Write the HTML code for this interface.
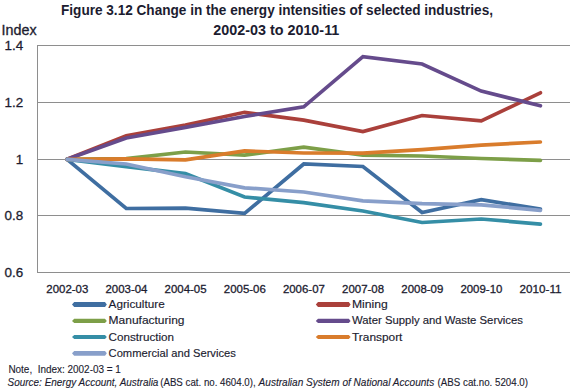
<!DOCTYPE html>
<html><head><meta charset="utf-8"><style>
html,body{margin:0;padding:0;background:#fff;}
body{width:586px;height:391px;overflow:hidden;position:relative;font-family:"Liberation Sans", sans-serif;}
svg{position:absolute;left:0;top:0;}
svg text{font-family:"Liberation Sans", sans-serif;fill:#1c1c30;stroke:#1c1c30;stroke-width:0.15px;}
svg text.t{stroke-width:0;}
svg text.s{stroke-width:0.12px;}
svg text.a{stroke-width:0.3px;}
</style></head><body>
<svg width="586" height="391" viewBox="0 0 586 391">
<rect x="37" y="45" width="533" height="1" fill="#8e8e8e"/>
<rect x="37" y="102" width="533" height="1" fill="#8e8e8e"/>
<rect x="37" y="159" width="533" height="1" fill="#8e8e8e"/>
<rect x="37" y="215" width="533" height="1" fill="#8e8e8e"/>
<rect x="37" y="272" width="533" height="1" fill="#8e8e8e"/>
<rect x="37" y="45" width="1" height="228" fill="#8e8e8e"/>
<text x="61.0" y="14.7" font-size="13.8" class="t" font-weight="bold" textLength="432" lengthAdjust="spacingAndGlyphs">Figure 3.12 Change in the energy intensities of selected industries,</text>
<text x="213.3" y="34.85" font-size="13.8" class="t" font-weight="bold" textLength="126" lengthAdjust="spacingAndGlyphs">2002-03 to 2010-11</text>
<text x="1.6" y="35.1" font-size="14.0" class="a" textLength="35" lengthAdjust="spacingAndGlyphs">Index</text>
<text x="23.2" y="49.9" font-size="13.4" class="a" text-anchor="end">1.4</text>
<text x="23.2" y="106.8" font-size="13.4" class="a" text-anchor="end">1.2</text>
<text x="23.2" y="163.7" font-size="13.4" class="a" text-anchor="end">1</text>
<text x="23.2" y="220.3" font-size="13.4" class="a" text-anchor="end">0.8</text>
<text x="23.2" y="277.0" font-size="13.4" class="a" text-anchor="end">0.6</text>
<text x="46.3" y="293.2" font-size="11.6" class="a" textLength="42" lengthAdjust="spacingAndGlyphs">2002-03</text>
<text x="105.5" y="293.2" font-size="11.6" class="a" textLength="42" lengthAdjust="spacingAndGlyphs">2003-04</text>
<text x="164.6" y="293.2" font-size="11.6" class="a" textLength="42" lengthAdjust="spacingAndGlyphs">2004-05</text>
<text x="223.8" y="293.2" font-size="11.6" class="a" textLength="42" lengthAdjust="spacingAndGlyphs">2005-06</text>
<text x="282.9" y="293.2" font-size="11.6" class="a" textLength="42" lengthAdjust="spacingAndGlyphs">2006-07</text>
<text x="342.1" y="293.2" font-size="11.6" class="a" textLength="42" lengthAdjust="spacingAndGlyphs">2007-08</text>
<text x="401.3" y="293.2" font-size="11.6" class="a" textLength="42" lengthAdjust="spacingAndGlyphs">2008-09</text>
<text x="460.4" y="293.2" font-size="11.6" class="a" textLength="42" lengthAdjust="spacingAndGlyphs">2009-10</text>
<text x="519.6" y="293.2" font-size="11.6" class="a" textLength="42" lengthAdjust="spacingAndGlyphs">2010-11</text>
<polyline points="67.08,159.3 126.25,208.5 185.42,208.2 244.58,213.4 303.75,164.0 362.92,166.5 422.08,212.5 481.25,199.6 540.42,209.2" fill="none" stroke="#3f6ea1" stroke-width="3.7" stroke-linejoin="miter" stroke-linecap="round"/>
<polyline points="67.08,159.3 126.25,135.8 185.42,125.0 244.58,112.3 303.75,120.2 362.92,131.5 422.08,115.5 481.25,120.9 540.42,92.8" fill="none" stroke="#aa403b" stroke-width="3.7" stroke-linejoin="miter" stroke-linecap="round"/>
<polyline points="67.08,159.3 126.25,158.6 185.42,152.0 244.58,155.1 303.75,147.1 362.92,155.2 422.08,156.0 481.25,158.5 540.42,160.4" fill="none" stroke="#7d9f48" stroke-width="3.7" stroke-linejoin="miter" stroke-linecap="round"/>
<polyline points="67.08,159.3 126.25,138.0 185.42,127.4 244.58,116.5 303.75,106.8 362.92,56.6 422.08,64.0 481.25,91.1 540.42,105.8" fill="none" stroke="#654b8c" stroke-width="3.7" stroke-linejoin="miter" stroke-linecap="round"/>
<polyline points="67.08,159.3 126.25,166.6 185.42,173.6 244.58,197.0 303.75,202.6 362.92,211.0 422.08,222.5 481.25,219.0 540.42,224.1" fill="none" stroke="#358ea6" stroke-width="3.7" stroke-linejoin="miter" stroke-linecap="round"/>
<polyline points="67.08,159.3 126.25,158.8 185.42,159.8 244.58,150.9 303.75,153.0 362.92,153.1 422.08,149.7 481.25,145.1 540.42,142.0" fill="none" stroke="#d97c2c" stroke-width="3.7" stroke-linejoin="miter" stroke-linecap="round"/>
<polyline points="67.08,159.3 126.25,164.0 185.42,176.7 244.58,187.8 303.75,192.0 362.92,200.8 422.08,203.6 481.25,204.8 540.42,210.3" fill="none" stroke="#889fca" stroke-width="3.7" stroke-linejoin="miter" stroke-linecap="round"/>
<polygon points="72.0,304.4 74.2,301.9 105.0,301.9 106.8,304.4 105.0,306.9 74.2,306.9" fill="#3f6ea1"/>
<text x="108.6" y="307.8" font-size="11.0" textLength="56.1" lengthAdjust="spacingAndGlyphs">Agriculture</text>
<polygon points="315.8,304.4 318.0,301.9 348.8,301.9 350.6,304.4 348.8,306.9 318.0,306.9" fill="#aa403b"/>
<text x="352.0" y="307.8" font-size="11.0" textLength="35.8" lengthAdjust="spacingAndGlyphs">Mining</text>
<polygon points="72.0,320.95 74.2,318.84999999999997 105.0,318.84999999999997 106.8,320.95 105.0,323.05 74.2,323.05" fill="#7d9f48"/>
<text x="108.6" y="324.0" font-size="11.0" textLength="75.9" lengthAdjust="spacingAndGlyphs">Manufacturing</text>
<polygon points="315.8,320.95 318.0,318.84999999999997 348.8,318.84999999999997 350.6,320.95 348.8,323.05 318.0,323.05" fill="#654b8c"/>
<text x="352.0" y="324.0" font-size="11.0" textLength="171.0" lengthAdjust="spacingAndGlyphs">Water Supply and Waste Services</text>
<polygon points="72.0,337.0 74.2,334.95 105.0,334.95 106.8,337.0 105.0,339.05 74.2,339.05" fill="#358ea6"/>
<text x="108.6" y="340.8" font-size="11.0" textLength="65.4" lengthAdjust="spacingAndGlyphs">Construction</text>
<polygon points="315.8,337.0 318.0,334.95 348.8,334.95 350.6,337.0 348.8,339.05 318.0,339.05" fill="#d97c2c"/>
<text x="352.0" y="340.8" font-size="11.0" textLength="50.4" lengthAdjust="spacingAndGlyphs">Transport</text>
<polygon points="72.0,353.35 74.2,350.90000000000003 105.0,350.90000000000003 106.8,353.35 105.0,355.8 74.2,355.8" fill="#889fca"/>
<text x="108.6" y="356.8" font-size="11.0" textLength="127.2" lengthAdjust="spacingAndGlyphs">Commercial and Services</text>
<text x="8.4" y="372.9" font-size="10.1" class="s" textLength="112.5" lengthAdjust="spacingAndGlyphs">Note,&#160; Index: 2002-03 = 1</text>
<text x="7.6" y="385.8" font-size="10.1" class="s" font-style="italic" textLength="150.8" lengthAdjust="spacingAndGlyphs">Source: Energy Account, Australia</text>
<text x="160.2" y="385.8" font-size="10.1" class="s" textLength="95.5" lengthAdjust="spacingAndGlyphs">(ABS cat. no. 4604.0),</text>
<text x="258.6" y="385.8" font-size="10.1" class="s" font-style="italic" textLength="175.6" lengthAdjust="spacingAndGlyphs">Australian System of National Accounts</text>
<text x="437.6" y="385.8" font-size="10.1" class="s" textLength="90.4" lengthAdjust="spacingAndGlyphs">(ABS cat.no. 5204.0)</text>
</svg>
</body></html>
